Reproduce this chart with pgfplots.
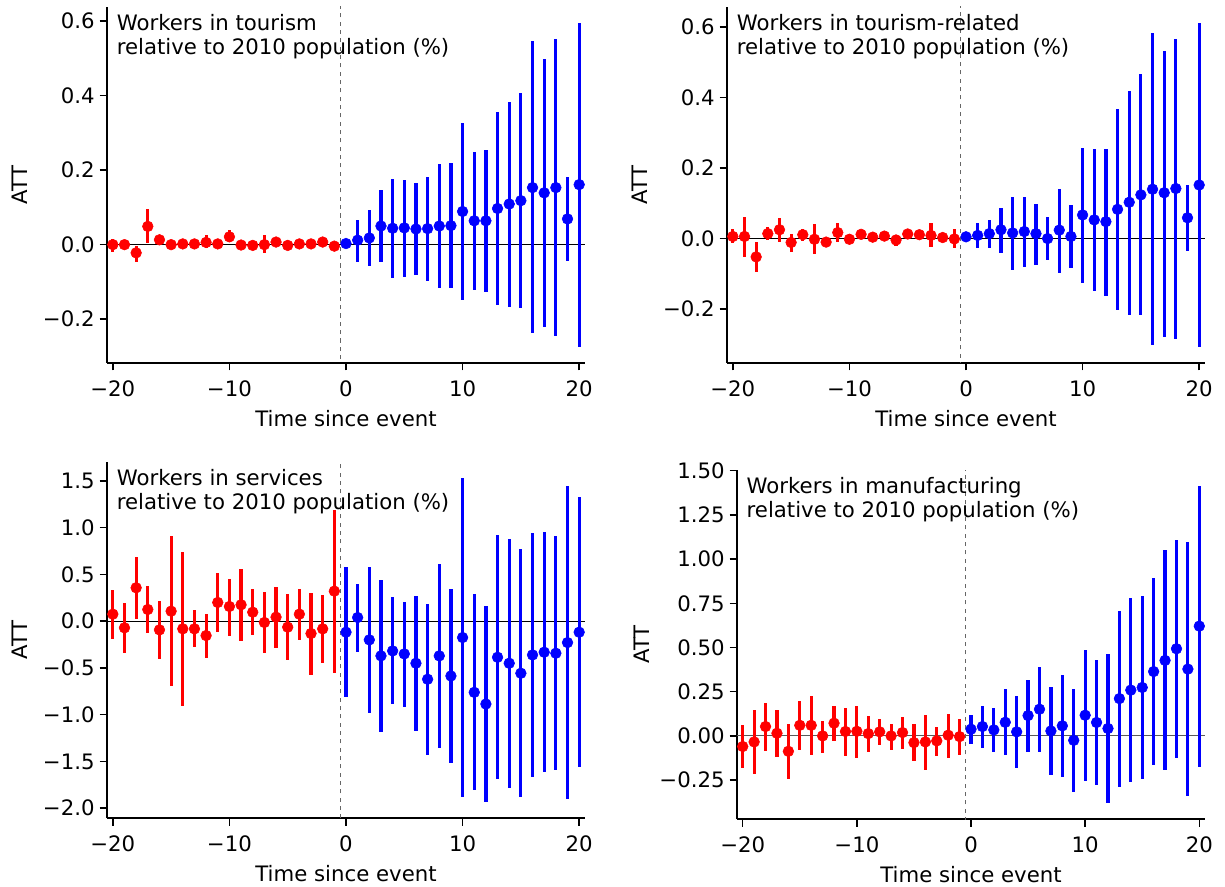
\documentclass[border=0pt]{standalone}
\usepackage{fontspec}
\setmainfont{DejaVu Sans}
\usepackage{pgfplots}
\usepackage{pgfplotstable}
\pgfplotsset{compat=1.18}

% columns: event time, ATT, lower and upper end of the interval
\pgfplotstableread{
x y lo hi
-20 0.000 -0.019 0.015
-19 0.000 -0.008 0.008
-18 -0.022 -0.046 -0.003
-17 0.049 0.004 0.096
-16 0.013 0.005 0.021
-15 0.000 -0.006 0.006
-14 0.002 -0.004 0.008
-13 0.002 -0.004 0.008
-12 0.006 -0.010 0.026
-11 0.002 -0.005 0.009
-10 0.021 0.008 0.038
-9 -0.001 -0.007 0.005
-8 -0.002 -0.008 0.004
-7 0.000 -0.023 0.026
-6 0.007 0.000 0.014
-5 -0.002 -0.008 0.004
-4 0.002 -0.004 0.008
-3 0.002 -0.004 0.008
-2 0.007 0.000 0.014
-1 -0.004 -0.010 0.002
0 0.003 -0.004 0.010
1 0.012 -0.047 0.067
2 0.018 -0.058 0.093
3 0.050 -0.047 0.147
4 0.044 -0.089 0.176
5 0.045 -0.086 0.174
6 0.042 -0.081 0.165
7 0.043 -0.097 0.181
8 0.050 -0.115 0.217
9 0.051 -0.116 0.218
10 0.089 -0.148 0.326
11 0.064 -0.121 0.248
12 0.064 -0.126 0.254
13 0.097 -0.162 0.355
14 0.109 -0.166 0.382
15 0.118 -0.171 0.406
16 0.153 -0.238 0.545
17 0.139 -0.222 0.498
18 0.153 -0.246 0.552
19 0.069 -0.045 0.181
20 0.161 -0.274 0.594
}\tourism

\pgfplotstableread{
x y lo hi
-20 0.006 -0.013 0.026
-19 0.006 -0.051 0.062
-18 -0.052 -0.096 -0.009
-17 0.014 -0.004 0.033
-16 0.025 -0.009 0.058
-15 -0.011 -0.037 0.012
-14 0.011 -0.007 0.028
-13 -0.002 -0.044 0.040
-12 -0.010 -0.016 -0.004
-11 0.017 -0.011 0.045
-10 -0.002 -0.016 0.013
-9 0.012 0.000 0.025
-8 0.004 -0.003 0.011
-7 0.007 -0.007 0.020
-6 -0.004 -0.021 0.010
-5 0.013 0.006 0.020
-4 0.011 0.004 0.018
-3 0.009 -0.023 0.043
-2 0.003 -0.004 0.010
-1 -0.001 -0.028 0.028
0 0.005 -0.002 0.012
1 0.009 -0.027 0.043
2 0.014 -0.026 0.052
3 0.025 -0.042 0.087
4 0.016 -0.088 0.119
5 0.020 -0.080 0.118
6 0.014 -0.075 0.099
7 0.000 -0.060 0.060
8 0.024 -0.097 0.140
9 0.006 -0.084 0.096
10 0.067 -0.126 0.258
11 0.053 -0.150 0.253
12 0.048 -0.163 0.255
13 0.083 -0.202 0.369
14 0.103 -0.217 0.420
15 0.124 -0.218 0.466
16 0.140 -0.301 0.583
17 0.130 -0.278 0.533
18 0.142 -0.286 0.565
19 0.059 -0.036 0.151
20 0.152 -0.307 0.611
}\related

\pgfplotstableread{
x y lo hi
-20 0.075 -0.193 0.336
-19 -0.071 -0.339 0.193
-18 0.357 0.021 0.686
-17 0.125 -0.129 0.379
-16 -0.093 -0.404 0.214
-15 0.107 -0.696 0.914
-14 -0.082 -0.904 0.736
-13 -0.082 -0.279 0.118
-12 -0.154 -0.389 0.079
-11 0.200 -0.121 0.518
-10 0.157 -0.154 0.450
-9 0.175 -0.207 0.561
-8 0.096 -0.143 0.339
-7 -0.014 -0.343 0.307
-6 0.043 -0.289 0.364
-5 -0.064 -0.418 0.289
-4 0.075 -0.204 0.343
-3 -0.132 -0.579 0.300
-2 -0.082 -0.450 0.279
-1 0.321 -0.557 1.193
0 -0.118 -0.807 0.575
1 0.039 -0.325 0.396
2 -0.200 -0.986 0.582
3 -0.371 -1.182 0.436
4 -0.318 -0.889 0.254
5 -0.350 -0.914 0.207
6 -0.450 -1.175 0.271
7 -0.621 -1.432 0.186
8 -0.371 -1.354 0.607
9 -0.586 -1.514 0.343
10 -0.175 -1.882 1.529
11 -0.761 -1.804 0.286
12 -0.886 -1.932 0.161
13 -0.386 -1.693 0.921
14 -0.450 -1.782 0.879
15 -0.557 -1.882 0.768
16 -0.361 -1.664 0.943
17 -0.332 -1.618 0.950
18 -0.343 -1.593 0.907
19 -0.229 -1.900 1.450
20 -0.118 -1.561 1.325
}\services

\pgfplotstableread{
x y lo hi
-20 -0.060 -0.183 0.062
-19 -0.034 -0.213 0.145
-18 0.053 -0.085 0.187
-17 0.015 -0.119 0.145
-16 -0.087 -0.242 0.066
-15 0.060 -0.079 0.196
-14 0.060 -0.106 0.223
-13 0.000 -0.098 0.087
-12 0.072 -0.028 0.168
-11 0.025 -0.113 0.157
-10 0.026 -0.123 0.172
-9 0.013 -0.089 0.110
-8 0.023 -0.053 0.094
-7 0.000 -0.079 0.070
-6 0.019 -0.072 0.108
-5 -0.038 -0.144 0.070
-4 -0.034 -0.193 0.117
-3 -0.028 -0.113 0.053
-2 0.004 -0.127 0.123
-1 -0.004 -0.110 0.094
0 0.038 -0.047 0.119
1 0.053 -0.066 0.168
2 0.034 -0.091 0.157
3 0.077 -0.108 0.264
4 0.023 -0.183 0.225
5 0.115 -0.089 0.317
6 0.151 -0.091 0.389
7 0.028 -0.223 0.278
8 0.057 -0.230 0.342
9 -0.025 -0.317 0.268
10 0.117 -0.257 0.487
11 0.076 -0.279 0.431
12 0.042 -0.380 0.461
13 0.211 -0.287 0.708
14 0.259 -0.262 0.782
15 0.274 -0.244 0.793
16 0.364 -0.164 0.893
17 0.427 -0.193 1.052
18 0.493 -0.123 1.108
19 0.378 -0.340 1.095
20 0.621 -0.174 1.414
}\manufacturing

\newcommand{\txt}{\fontsize{15.3}{17.6}\selectfont}

\pgfplotsset{
  evt/.style={
    scale only axis, anchor=south west,
    width=344.16pt, height=256.32pt,
    xmin=-20.5, xmax=20.5,
    axis lines=left, axis line style={-, line width=1.1pt},
    tick align=outside, major tick length=5.4pt,
    tick style={line width=1.1pt, black},
    xtick={-20,-10,0,10,20}, xticklabels={−20,−10,0,10,20},
    tick label style={font=\txt},
    xticklabel style={yshift=-3.5pt},
    label style={font=\txt},
    xlabel style={yshift=-3.2pt},
    xlabel={Time since event}, ylabel={ATT},
    clip=true,
  },
  pre/.style={only marks, mark=*, mark size=3.85pt, red,
    mark options={draw=red, fill=red},
    restrict x to domain=-20:-1,
    error bars/.cd, y dir=both, y explicit, error mark=none,
    error bar style={line width=2.3pt, red}},
  post/.style={only marks, mark=*, mark size=3.85pt, blue,
    mark options={draw=blue, fill=blue},
    restrict x to domain=0:20,
    error bars/.cd, y dir=both, y explicit, error mark=none,
    error bar style={line width=2.3pt, blue}},
  /pgfplots/table/ci/.style={x=x, y=y,
    y error plus expr=\thisrow{hi}-\thisrow{y},
    y error minus expr=\thisrow{y}-\thisrow{lo}},
}

\begin{document}
\begin{tikzpicture}
\useasboundingbox (0,0) rectangle (882pt,637.92pt);

% tourism
\begin{axis}[evt, at={(77.04pt,376.56pt)},
  ymin=-0.3174, ymax=0.6374, ylabel style={yshift=4.3pt},
  ytick={-0.2,0,0.2,0.4,0.6}, yticklabels={−0.2,0.0,0.2,0.4,0.6}]
\addplot[black, line width=0.8pt] coordinates {(-20.5,0) (20.5,0)};
\addplot[black!60, dashed, line width=0.8pt] coordinates {(-0.5,-1) (-0.5,1)};
\addplot[pre] table[ci] {\tourism};
\addplot[post] table[ci] {\tourism};
\node[anchor=north west, align=left, inner sep=0pt, font=\txt]
  at (rel axis cs:0.02,0.98) {Workers in tourism\\relative to 2010 population (\%)};
\end{axis}

% tourism-related
\begin{axis}[evt, at={(523.44pt,376.56pt)},
  ymin=-0.353, ymax=0.657, ylabel style={yshift=4.3pt},
  ytick={-0.2,0,0.2,0.4,0.6}, yticklabels={−0.2,0.0,0.2,0.4,0.6}]
\addplot[black, line width=0.8pt] coordinates {(-20.5,0) (20.5,0)};
\addplot[black!60, dashed, line width=0.8pt] coordinates {(-0.5,-1) (-0.5,1)};
\addplot[pre] table[ci] {\related};
\addplot[post] table[ci] {\related};
\node[anchor=north west, align=left, inner sep=0pt, font=\txt]
  at (rel axis cs:0.02,0.98) {Workers in tourism-related\\relative to 2010 population (\%)};
\end{axis}

% services
\begin{axis}[evt, at={(77.04pt,48.96pt)},
  ymin=-2.105, ymax=1.702, ylabel style={yshift=4.3pt},
  ytick={-2,-1.5,-1,-0.5,0,0.5,1,1.5},
  yticklabels={−2.0,−1.5,−1.0,−0.5,0.0,0.5,1.0,1.5}]
\addplot[black, line width=0.8pt] coordinates {(-20.5,0) (20.5,0)};
\addplot[black!60, dashed, line width=0.8pt] coordinates {(-0.5,-3) (-0.5,3)};
\addplot[pre] table[ci] {\services};
\addplot[post] table[ci] {\services};
\node[anchor=north west, align=left, inner sep=0pt, font=\txt]
  at (rel axis cs:0.02,0.98) {Workers in services\\relative to 2010 population (\%)};
\end{axis}

% manufacturing
\begin{axis}[evt, at={(530.64pt,48.24pt)}, width=336.96pt, height=251.28pt,
  ymin=-0.470, ymax=1.504,
  ytick={-0.25,0,0.25,0.5,0.75,1,1.25,1.5},
  yticklabels={−0.25,0.00,0.25,0.50,0.75,1.00,1.25,1.50}]
\addplot[black!65, line width=0.8pt] coordinates {(-20.5,0) (20.5,0)};
\addplot[black!60, dashed, line width=0.8pt] coordinates {(-0.5,-1) (-0.5,2)};
\addplot[pre] table[ci] {\manufacturing};
\addplot[post] table[ci] {\manufacturing};
\node[anchor=north west, align=left, inner sep=0pt, font=\txt]
  at (rel axis cs:0.02,0.98) {Workers in manufacturing\\relative to 2010 population (\%)};
\end{axis}
\end{tikzpicture}
\end{document}
